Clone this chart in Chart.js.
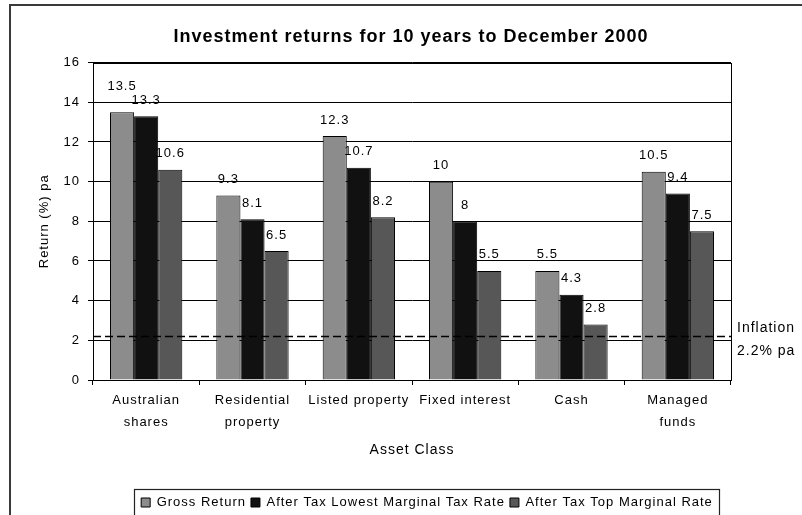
<!DOCTYPE html>
<html>
<head>
<meta charset="utf-8">
<title>Investment returns for 10 years to December 2000</title>
<script src="https://cdn.jsdelivr.net/npm/chart.js@4.4.1/dist/chart.umd.min.js"></script>
<style>
  html, body { margin: 0; padding: 0; background: #fff; }
  #wrap { width: 802px; height: 515px; position: relative; }
</style>
</head>
<body>
<div id="wrap"><canvas id="chart" width="802" height="515"></canvas></div>
<script>
// Asset classes (multi-line labels as arrays)
const categories = [
  ['Australian', 'shares'],
  ['Residential', 'property'],
  'Listed property',
  'Fixed interest',
  'Cash',
  ['Managed', 'funds']
];

// Returns (% pa) for each asset class
const grossReturn    = [13.5, 9.3, 12.3, 10, 5.5, 10.5];
const afterTaxLowest = [13.3, 8.1, 10.7, 8, 4.3, 9.4];
const afterTaxTop    = [10.6, 6.5, 8.2, 5.5, 2.8, 7.5];

const seriesNames = ['Gross Return', 'After Tax Lowest Marginal Tax Rate', 'After Tax Top Marginal Rate'];

// Inflation benchmark (% pa)
const inflationRate = 2.2;
const inflationLabel = ['Inflation', '2.2% pa'];

// Value axis range
const yMin = 0;
const yMax = 16;
const yStep = 2;

const FONT = "'Liberation Sans', Arial, sans-serif";
Chart.defaults.font.family = FONT;
Chart.defaults.color = '#000';

// Slightly spaced lettering for all chart text
const letterSpacing = {
  id: 'letterSpacing',
  beforeLayout(chart) { chart.ctx.letterSpacing = '1px'; },
  beforeDraw(chart) { chart.ctx.letterSpacing = '1px'; }
};

// Nudge the legend row right and down inside its framed box
const legendPlacement = {
  id: 'legendPlacement',
  afterLayout(chart) {
    const lg = chart.legend;
    if (!lg) return;
    lg.left += 16; lg.right += 16;
    lg.top += 4; lg.bottom += 4;
  }
};

// Outer frame, plot box, inflation line, value labels and legend frame
const decorations = {
  id: 'decorations',
  afterDatasetsDraw(chart) {
    const { ctx, chartArea: a, scales } = chart;
    const y = scales.y;

    // value labels above each bar; a label that would collide with
    // its right-hand neighbour is lifted above it
    ctx.save();
    ctx.font = '13px ' + FONT;
    ctx.fillStyle = '#000';
    ctx.textAlign = 'center';
    ctx.textBaseline = 'middle';
    const metas = chart.data.datasets.map((ds, di) => chart.getDatasetMeta(di));
    const nCat = chart.data.labels.length;
    for (let i = 0; i < nCat; i++) {
      const items = metas.map((meta, di) => {
        const bar = meta.data[i];
        const text = String(chart.data.datasets[di].data[i]);
        const w = ctx.measureText(text).width;
        return { text, x: bar.x, y: bar.y - 16, w };
      });
      for (let k = items.length - 2; k >= 0; k--) {
        const cur = items[k], nxt = items[k + 1];
        const overlapX = Math.abs(cur.x - nxt.x) < (cur.w + nxt.w) / 2;
        const overlapY = Math.abs(cur.y - nxt.y) < 14;
        if (overlapX && overlapY) cur.y = nxt.y - 14;
      }
      items.forEach(it => ctx.fillText(it.text, it.x, it.y));
    }
    ctx.restore();

    // inflation line
    const iy = Math.round(y.getPixelForValue(inflationRate)) + 0.5;
    ctx.save();
    ctx.strokeStyle = '#000';
    ctx.lineWidth = 1.5;
    ctx.setLineDash([8, 4]);
    ctx.beginPath();
    ctx.moveTo(a.left, iy);
    ctx.lineTo(a.right, iy);
    ctx.stroke();
    ctx.restore();

    ctx.save();
    ctx.font = '14px ' + FONT;
    ctx.fillStyle = '#000';
    ctx.textAlign = 'left';
    ctx.textBaseline = 'middle';
    ctx.fillText(inflationLabel[0], a.right + 6, iy - 8);
    ctx.fillText(inflationLabel[1], a.right + 6, iy + 15);
    ctx.restore();
  },
  afterDraw(chart) {
    const { ctx, chartArea: a } = chart;
    ctx.save();
    // plot area box
    ctx.strokeStyle = '#000';
    ctx.lineWidth = 1;
    ctx.strokeRect(Math.round(a.left) + 0.5, Math.round(a.top) + 0.5,
                   Math.round(a.right - a.left), Math.round(a.bottom - a.top));
    // outer chart frame
    ctx.strokeStyle = '#3a3a3a';
    ctx.lineWidth = 2;
    ctx.strokeRect(10, 5, 820, 540);
    // legend frame
    const lg = chart.legend;
    if (lg && lg.legendHitBoxes && lg.legendHitBoxes.length) {
      const hb = lg.legendHitBoxes;
      const left = hb[0].left - 7;
      const last = hb[hb.length - 1];
      const right = last.left + last.width + 6;
      ctx.strokeStyle = '#222';
      ctx.lineWidth = 1.2;
      ctx.strokeRect(Math.round(left) + 0.5, Math.round(lg.top - 2) + 0.5, Math.round(right - left), 60);
    }
    ctx.restore();
  }
};

const colors = ['#8c8c8c', '#111111', '#575757'];

new Chart(document.getElementById('chart'), {
  type: 'bar',
  data: {
    labels: categories,
    datasets: [grossReturn, afterTaxLowest, afterTaxTop].map((d, i) => ({
      label: seriesNames[i],
      data: d,
      backgroundColor: colors[i],
      borderColor: '#000',
      borderWidth: 1,
      categoryPercentage: 0.68,
      barPercentage: 1.0
    }))
  },
  options: {
    responsive: false,
    animation: false,
    devicePixelRatio: 1,
    layout: { padding: { left: 20, right: 0, top: 0, bottom: 0 } },
    plugins: {
      title: {
        display: true,
        text: 'Investment returns for 10 years to December 2000',
        font: { size: 18, weight: 'bold', family: FONT },
        color: '#000',
        padding: { top: 26, bottom: 15 }
      },
      legend: {
        position: 'bottom',
        labels: {
          boxWidth: 9,
          boxHeight: 9,
          padding: 5,
          font: { size: 13, family: FONT },
          color: '#000'
        }
      },
      tooltip: { enabled: false }
    },
    scales: {
      x: {
        grid: {
          display: true,
          drawOnChartArea: false,
          drawTicks: true,
          tickLength: 5,
          color: '#000',
          offset: true
        },
        border: { display: true, color: '#000', width: 1 },
        ticks: {
          font: { size: 13, family: FONT, lineHeight: 1.65 },
          color: '#000',
          padding: 5,
          maxRotation: 0,
          autoSkip: false
        },
        title: {
          display: true,
          text: 'Asset Class',
          font: { size: 14, family: FONT },
          color: '#000',
          padding: { top: 10, bottom: 28 }
        },
        afterFit(scale) { scale.height = 107; }
      },
      y: {
        min: yMin,
        max: yMax,
        grid: {
          color: '#000',
          lineWidth: 1,
          tickLength: 5,
          drawTicks: true
        },
        border: { display: true, color: '#000', width: 1 },
        ticks: {
          stepSize: yStep,
          font: { size: 13, family: FONT },
          color: '#000',
          padding: 8
        },
        title: {
          display: true,
          text: 'Return (%) pa',
          font: { size: 13, family: FONT },
          color: '#000',
          padding: { top: 17, bottom: 4 }
        },
        afterFit(scale) { scale.width = 73; }
      },
      // empty right-hand band holding the inflation caption
      side: {
        type: 'linear',
        position: 'right',
        min: yMin,
        max: yMax,
        grid: { display: false },
        border: { display: false },
        ticks: { display: false },
        afterFit(scale) { scale.width = 71; }
      }
    }
  },
  plugins: [letterSpacing, legendPlacement, decorations]
});
</script>
</body>
</html>
